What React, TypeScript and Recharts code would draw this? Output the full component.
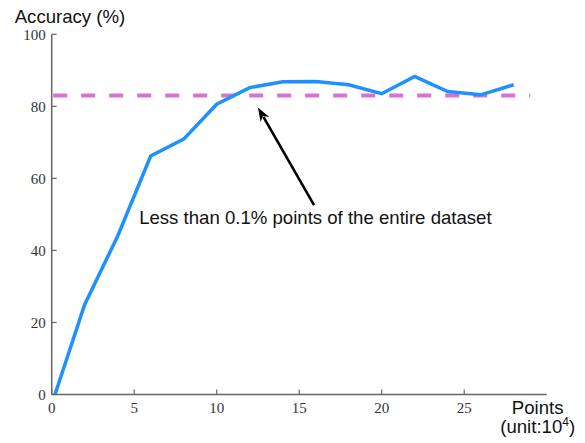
import { LineChart, Line, XAxis, YAxis, ReferenceLine, ReferenceDot } from "recharts";

// sample size (unit: 10^4 points) and accuracy in %
const points = [0.2, 2, 4, 6, 8, 10, 12, 14, 16, 18, 20, 22, 24, 26, 28];
const accuracy = [0, 25, 44, 66.2, 70.9, 80.6, 85.2, 86.8, 86.9, 86, 83.5, 88.3, 84.1, 83.2, 86];

const xTicks = [0, 5, 10, 15, 20, 25];
const yTicks = [0, 20, 40, 60, 80, 100];

const fullAccuracy = 83;
const refStart = 0;
const refEnd = 29;

const arrowTail = { x: 15.9, y: 52.6 };
const arrowHead = { x: 12.5, y: 79.7 };
const note = { x: 5.3, y: 47.2, text: "Less than 0.1% points of the entire dataset" };

const data = points.map((p, i) => ({ x: p, acc: accuracy[i] }));

const AXIS = "#666";
const SERIF = "'Liberation Serif', 'Times New Roman', serif";
const SANS = "'Liberation Sans', Arial, sans-serif";

const serifStyle = { fontFamily: SERIF, fontSize: 15 };

const YTick = ({ x, y, payload }: any) => (
  <g>
    <line x1={x} y1={y} x2={x + 5} y2={y} stroke={AXIS} strokeWidth={1.2} />
    <text x={x - 6} y={y + 5.5} textAnchor="end" style={serifStyle} fill="#333">
      {payload.value}
    </text>
  </g>
);

const XTick = ({ x, y, payload }: any) => (
  <g>
    <line x1={x} y1={y} x2={x} y2={y - 5} stroke={AXIS} strokeWidth={1.2} />
    <text x={x} y={y + 18.5} textAnchor="middle" style={serifStyle} fill="#333">
      {payload.value}
    </text>
  </g>
);

const Arrow = ({ x1, y1, x2, y2 }: any) => {
  const ang = Math.atan2(y2 - y1, x2 - x1);
  const len = 14;
  const w = 5;
  const bx = x2 - len * Math.cos(ang);
  const by = y2 - len * Math.sin(ang);
  const px = -Math.sin(ang) * w;
  const py = Math.cos(ang) * w;
  return (
    <g>
      <line x1={x1} y1={y1} x2={bx + 3 * Math.cos(ang)} y2={by + 3 * Math.sin(ang)} stroke="#000" strokeWidth={2.6} />
      <polygon
        points={`${x2},${y2} ${bx + px},${by + py} ${bx + 4 * Math.cos(ang)},${by + 4 * Math.sin(ang)} ${bx - px},${by - py}`}
        fill="#000"
      />
    </g>
  );
};

const NoteText = ({ cx, cy }: any) => (
  <text x={cx} y={cy} style={{ fontFamily: SANS, fontSize: 18.6 }} fill="#111">
    {note.text}
  </text>
);

export default function App() {
  return (
    <div style={{ position: "absolute", left: 0, top: 0 }}>
      <LineChart
        width={585}
        height={443}
        data={data}
        margin={{ top: 34.3, right: 38.3, bottom: 8.5, left: 6.7 }}
      >
        <XAxis
          dataKey="x"
          type="number"
          domain={[0, 30]}
          ticks={xTicks}
          height={40}
          tickSize={0}
          tickMargin={0}
          tickLine={false}
          tick={<XTick />}
          axisLine={{ stroke: AXIS, strokeWidth: 1.5 }}
          label={({ viewBox }: any) => {
            const cx = viewBox.x + viewBox.width - 9;
            const cy = viewBox.y;
            return (
              <g style={{ fontFamily: SANS, fontSize: 18.6 }} fill="#111">
                <text x={cx} y={cy + 19} textAnchor="middle">Points</text>
                <text x={cx} y={cy + 38.5} textAnchor="middle">
                  (unit:10<tspan dy={-7} style={{ fontSize: 12 }}>4</tspan><tspan dy={7}>)</tspan>
                </text>
              </g>
            );
          }}
        />
        <YAxis
          type="number"
          domain={[0, 100]}
          ticks={yTicks}
          width={45}
          tickSize={0}
          tickMargin={0}
          tickLine={false}
          tick={<YTick />}
          axisLine={{ stroke: AXIS, strokeWidth: 1.5 }}
          label={({ viewBox }: any) => (
            <text
              x={viewBox.x + viewBox.width - 37}
              y={viewBox.y - 11}
              style={{ fontFamily: SANS, fontSize: 18.6 }}
              fill="#111"
            >
              Accuracy (%)
            </text>
          )}
        />
        <ReferenceLine
          segment={[
            { x: refStart, y: fullAccuracy },
            { x: refEnd, y: fullAccuracy },
          ]}
          stroke="#DA70D6"
          strokeWidth={4}
          strokeDasharray="14 14"
          strokeDashoffset={-1.5}
        />
        <Line
          type="linear"
          dataKey="acc"
          stroke="#1E90FF"
          strokeWidth={3.5}
          dot={false}
          isAnimationActive={false}
        />
        <ReferenceLine
          segment={[arrowTail, arrowHead]}
          shape={<Arrow />}
        />
        <ReferenceDot x={note.x} y={note.y} r={0} shape={<NoteText />} />
      </LineChart>
    </div>
  );
}
